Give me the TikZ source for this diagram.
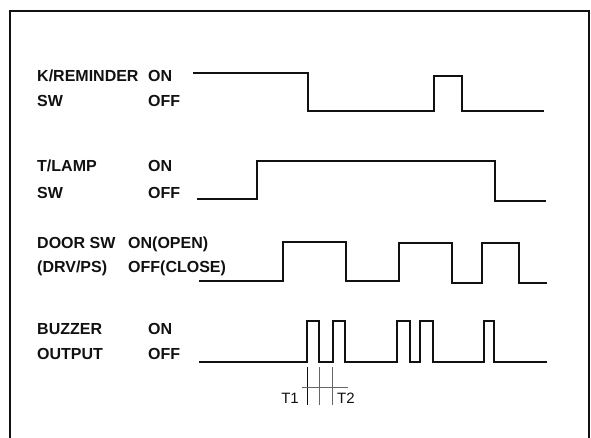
\documentclass[tikz,border=0pt]{standalone}
\usepackage{fontspec}
\setmainfont{Liberation Sans}
\usetikzlibrary{positioning}
\definecolor{chartInk}{HTML}{111111}
\definecolor{chartGray}{HTML}{666666}
\tikzset{
  every picture/.style={font=\bfseries\fontsize{16}{19}\selectfont, text=chartInk},
  chart frame/.style={draw=chartInk, line width=2.2pt},
  chart wave/.style={draw=chartInk, line width=2.2pt, line join=miter},
  chart label/.style={anchor=base west, inner sep=0pt},
  chart tick/.style={draw=chartGray, line width=0.8pt},
  chart note/.style={font=\mdseries\fontsize{15}{17}\selectfont, inner sep=0pt}
}

\begin{document}
\begin{tikzpicture}[x=1pt,y=-1pt]
  \useasboundingbox (0,0) rectangle (591,438);
  \draw[chart frame] (10,440) -- (10,11) -- (589,11) -- (589,440);

  % signal names and levels
  \node[chart label] (kremName) at (37,82) {K/REMINDER};
  \node[chart label] (kremSw)   at (37,107) {SW};
  \node[chart label] (kremOn)   at (148,82) {ON};
  \node[chart label] (kremOff)  at (148,107) {OFF};
  \node[chart label] (lampName) at (37,172) {T/LAMP};
  \node[chart label] (lampSw)   at (37,199) {SW};
  \node[chart label] (lampOn)   at (148,172) {ON};
  \node[chart label] (lampOff)  at (148,199) {OFF};
  \node[chart label] (doorName) at (37,248) {DOOR SW};
  \node[chart label] (doorSide) at (37,272) {(DRV/PS)};
  \node[chart label] (doorOn)   at (128,248) {ON(OPEN)};
  \node[chart label] (doorOff)  at (128,272) {OFF(CLOSE)};
  \node[chart label] (buzName)  at (37,334) {BUZZER};
  \node[chart label] (buzOut)   at (37,359) {OUTPUT};
  \node[chart label] (buzOn)    at (148,334) {ON};
  \node[chart label] (buzOff)   at (148,359) {OFF};

  % waveforms
  \draw[chart wave] (193,73) -- (308,73) -- (308,111) -- (434,111) -- (434,76)
    -- (462,76) -- (462,111) -- (544,111);
  \draw[chart wave] (197,199) -- (257,199) -- (257,161) -- (495,161) -- (495,201)
    -- (546,201);
  \draw[chart wave] (199,281) -- (283,281) -- (283,242) -- (346,242) -- (346,281)
    -- (399,281) -- (399,243) -- (452,243) -- (452,283) -- (482,283) -- (482,243)
    -- (519,243) -- (519,283) -- (547,283);
  \draw[chart wave] (199,362)
    foreach \a/\b in {307/319,333/345,397/410,420/433,484/494} {
      -- (\a,362) -- (\a,321) -- (\b,321) -- (\b,362)
    } -- (547,362);

  % T1 / T2 timing marks
  \draw[chart tick, draw=chartInk] (307,367) -- (307,405);
  \foreach \x in {319,332}
    \draw[chart tick] (\x,367) -- (\x,405);
  \draw[chart tick] (302,387) -- (348,387);
  \node[chart note, anchor=east] (tOne) at (299,398) {T1};
  \node[chart note, anchor=west] (tTwo) at (337,398) {T2};
\end{tikzpicture}
\end{document}
